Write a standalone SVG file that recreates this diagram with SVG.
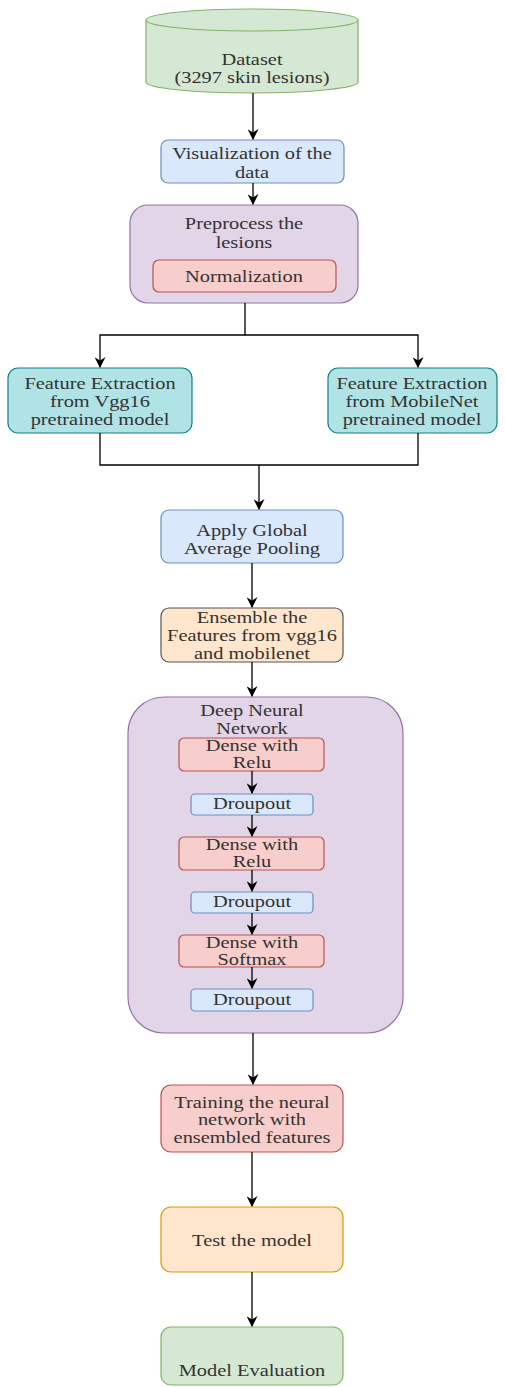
<svg xmlns="http://www.w3.org/2000/svg" width="505" height="1387" viewBox="0 0 505 1387">
<defs>
<marker id="arr" viewBox="0 0 10 10" refX="9" refY="5" markerWidth="11" markerHeight="11" markerUnits="userSpaceOnUse" orient="auto">
<path d="M0,0 L10,5 L0,10 L3,5 Z" fill="#000"/>
</marker>
<style>
text{font-family:"Liberation Serif","Times New Roman",serif;font-size:17px;fill:#333;text-anchor:middle;}
.ln{fill:none;stroke:#000;stroke-width:1.3;}
.green{fill:#d5e8d4;stroke:#82b366;stroke-width:1.2;}
.blue{fill:#dae8fc;stroke:#6c8ebf;stroke-width:1.2;}
.purple{fill:#e1d5e7;stroke:#9673a6;stroke-width:1.2;}
.red{fill:#f8cecc;stroke:#b85450;stroke-width:1.2;}
.teal{fill:#b0e3e6;stroke:#0e8088;stroke-width:1.2;}
.orange{fill:#ffe6cc;stroke:#d79b00;stroke-width:1.2;}
.orange2{fill:#ffe6cc;stroke:#555;stroke-width:1.2;}
</style>
</defs>
<rect width="505" height="1387" fill="#fff"/>
<g id="dataset">
<path class="green" d="M146,20 A106,11 0 0 1 358,20 V82 A106,11 0 0 1 146,82 Z"/>
<path class="green" d="M146,20 A106,11 0 0 0 358,20" fill="none"/>
<g transform="matrix(1.2,0,0,1,-50.4,0)">
<text x="252" y="65">Dataset</text>
<text x="252" y="83">(3297 skin lesions)</text>
</g>
</g>
<g id="visualization">
<rect class="blue" x="161" y="140" width="183" height="43" rx="7"/>
<g transform="matrix(1.2,0,0,1,-50.4,0)">
<text x="252" y="159">Visualization of the</text>
<text x="252" y="178">data</text>
</g>
</g>
<g id="preprocess">
<rect class="purple" x="130" y="205" width="228" height="98" rx="18"/>
<g transform="matrix(1.2,0,0,1,-48.8,0)">
<text x="244" y="229">Preprocess the</text>
<text x="244" y="248">lesions</text>
</g>
</g>
<g id="normalization">
<rect class="red" x="153" y="260" width="183" height="32" rx="6"/>
<g transform="matrix(1.2,0,0,1,-48.8,0)">
<text x="244" y="282">Normalization</text>
</g>
</g>
<g id="fe-vgg16">
<rect class="teal" x="8" y="368" width="184" height="65" rx="10"/>
<g transform="matrix(1.2,0,0,1,-20,0)">
<text x="100" y="389">Feature Extraction</text>
<text x="100" y="407">from Vgg16</text>
<text x="100" y="425">pretrained model</text>
</g>
</g>
<g id="fe-mobilenet">
<rect class="teal" x="328" y="368" width="169" height="65" rx="10"/>
<g transform="matrix(1.2,0,0,1,-82.4,0)">
<text x="412" y="389">Feature Extraction</text>
<text x="412" y="407">from MobileNet</text>
<text x="412" y="425">pretrained model</text>
</g>
</g>
<g id="gap">
<rect class="blue" x="161" y="510" width="182" height="53" rx="8"/>
<g transform="matrix(1.2,0,0,1,-50.4,0)">
<text x="252" y="536">Apply Global</text>
<text x="252" y="554">Average Pooling</text>
</g>
</g>
<g id="ensemble">
<rect class="orange2" x="161" y="608" width="182" height="54" rx="8"/>
<g transform="matrix(1.2,0,0,1,-50.4,0)">
<text x="252" y="623">Ensemble the</text>
<text x="252" y="641">Features from vgg16</text>
<text x="252" y="659">and mobilenet</text>
</g>
</g>
<g id="dnn">
<rect class="purple" x="128" y="697" width="275" height="336" rx="36"/>
<g transform="matrix(1.2,0,0,1,-50.4,0)">
<text x="252" y="716">Deep Neural</text>
<text x="252" y="734">Network</text>
</g>
</g>
<g id="dense1">
<rect class="red" x="179" y="738" width="145" height="33" rx="5"/>
<g transform="matrix(1.2,0,0,1,-50.4,0)">
<text x="252" y="751">Dense with</text>
<text x="252" y="768">Relu</text>
</g>
</g>
<g id="dropout1">
<rect class="blue" x="191" y="794" width="122" height="21" rx="4"/>
<g transform="matrix(1.2,0,0,1,-50.4,0)">
<text x="252" y="809">Droupout</text>
</g>
</g>
<g id="dense2">
<rect class="red" x="179" y="837" width="145" height="33" rx="5"/>
<g transform="matrix(1.2,0,0,1,-50.4,0)">
<text x="252" y="850">Dense with</text>
<text x="252" y="867">Relu</text>
</g>
</g>
<g id="dropout2">
<rect class="blue" x="191" y="892" width="122" height="21" rx="4"/>
<g transform="matrix(1.2,0,0,1,-50.4,0)">
<text x="252" y="907">Droupout</text>
</g>
</g>
<g id="dense3">
<rect class="red" x="179" y="935" width="145" height="32" rx="5"/>
<g transform="matrix(1.2,0,0,1,-50.4,0)">
<text x="252" y="948">Dense with</text>
<text x="252" y="965">Softmax</text>
</g>
</g>
<g id="dropout3">
<rect class="blue" x="191" y="989" width="122" height="22" rx="4"/>
<g transform="matrix(1.2,0,0,1,-50.4,0)">
<text x="252" y="1005">Droupout</text>
</g>
</g>
<g id="training">
<rect class="red" x="161" y="1085" width="182" height="67" rx="10"/>
<g transform="matrix(1.2,0,0,1,-50.4,0)">
<text x="252" y="1108">Training the neural</text>
<text x="252" y="1125">network with</text>
<text x="252" y="1143">ensembled features</text>
</g>
</g>
<g id="test">
<rect class="orange" x="161" y="1207" width="182" height="65" rx="10"/>
<g transform="matrix(1.2,0,0,1,-50.4,0)">
<text x="252" y="1246">Test the model</text>
</g>
</g>
<g id="evaluation">
<rect class="green" x="161" y="1327" width="182" height="58" rx="10"/>
<g transform="matrix(1.2,0,0,1,-50.4,0)">
<text x="252" y="1376">Model Evaluation</text>
</g>
</g>
<g id="connectors">
<path class="ln" d="M253,93 V139" marker-end="url(#arr)"/>
<path class="ln" d="M253,183 V204" marker-end="url(#arr)"/>
<path class="ln" d="M245,303 V335 H100 V367" marker-end="url(#arr)"/>
<path class="ln" d="M245,335 H418 V367" marker-end="url(#arr)"/>
<path class="ln" d="M100,433 V465 H418 V433"/>
<path class="ln" d="M259,465 V509" marker-end="url(#arr)"/>
<path class="ln" d="M252,563 V607" marker-end="url(#arr)"/>
<path class="ln" d="M252,662 V696" marker-end="url(#arr)"/>
<path class="ln" d="M252,771 V793" marker-end="url(#arr)"/>
<path class="ln" d="M252,815 V836" marker-end="url(#arr)"/>
<path class="ln" d="M252,870 V891" marker-end="url(#arr)"/>
<path class="ln" d="M252,913 V934" marker-end="url(#arr)"/>
<path class="ln" d="M252,967 V988" marker-end="url(#arr)"/>
<path class="ln" d="M253,1033 V1084" marker-end="url(#arr)"/>
<path class="ln" d="M252,1152 V1206" marker-end="url(#arr)"/>
<path class="ln" d="M252,1272 V1326" marker-end="url(#arr)"/>
</g>
</svg>
